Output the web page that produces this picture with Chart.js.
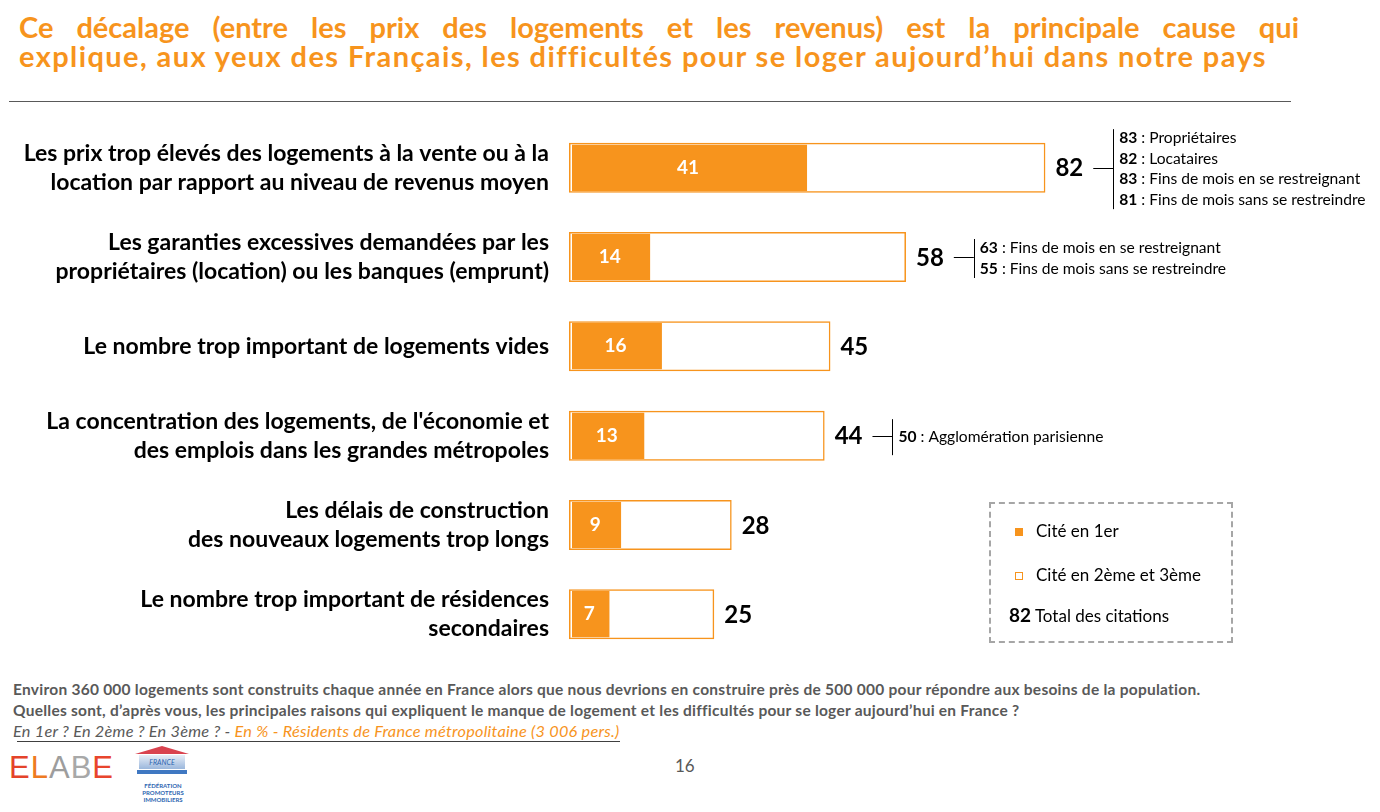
<!DOCTYPE html>
<html lang="fr">
<head>
<meta charset="utf-8">
<title>Difficultés pour se loger</title>
<script src="https://cdn.jsdelivr.net/npm/chart.js@4.4.1/dist/chart.umd.min.js"></script>
<style>
  html, body { margin: 0; padding: 0; background: #fff; }
  body { width: 1380px; height: 812px; position: relative; overflow: hidden; font-family: Lato, "Open Sans", sans-serif; }
  .titre { position: absolute; left: 19px; width: 1280px; color: #F7941D; font-weight: bold; font-size: 29px; line-height: 30px; white-space: nowrap; letter-spacing: 1.4px; }
  .titre.l1 { top: 12px; text-align: justify; text-align-last: justify; white-space: normal; letter-spacing: 0; }
  .titre.l2 { top: 41px; }
  .regle { position: absolute; left: 9px; top: 101px; width: 1282px; height: 1px; background: #595959; }
  #zone { position: absolute; left: 0; top: 110px; width: 1380px; height: 560px; }
  .legende { position: absolute; left: 989px; top: 502px; width: 240px; height: 137px; border: 2px dashed #a6a6a6; font-size: 17px; color: #000; }
  .legende .item { position: absolute; left: 45px; white-space: nowrap; }
  .legende .carre { position: absolute; left: 24px; width: 8px; height: 8px; box-sizing: border-box; }
  .pied { position: absolute; left: 13px; color: #595959; font-size: 15.5px; letter-spacing: 0.25px; white-space: nowrap; }
  .pied b { font-weight: bold; }
  .orange { color: #F7941D; }
  .souligne { position: absolute; left: 17px; top: 741px; width: 603px; height: 1px; background: #404040; }
  .page { position: absolute; left: 675px; top: 755px; font-size: 17px; color: #595959; }
  .elabe { position: absolute; left: 9px; top: 750px; font-size: 31px; letter-spacing: 1px; font-family: "Liberation Sans", sans-serif; }
  .fpi { position: absolute; left: 133px; top: 746px; width: 60px; height: 64px; }
</style>
</head>
<body>
<div class="titre l1">Ce décalage (entre les prix des logements et les revenus) est la principale cause qui</div>
<div class="titre l2">explique, aux yeux des Français, les difficultés pour se loger aujourd’hui dans notre pays</div>
<div class="regle"></div>

<div id="zone"><canvas id="graphique"></canvas></div>

<div class="legende">
  <div class="carre" style="top:24px;background:#F7941D;"></div>
  <div class="item" style="top:16px;">Cité en 1er</div>
  <div class="carre" style="top:68px;border:1px solid #F7941D;background:#fff;"></div>
  <div class="item" style="top:60px;">Cité en 2ème et 3ème</div>
  <div class="item" style="top:99px;left:18px;"><b style="font-size:19px;">82</b> Total des citations</div>
</div>

<div class="pied" style="top:680px;"><b>Environ 360 000 logements sont construits chaque année en France alors que nous devrions en construire près de 500 000 pour répondre aux besoins de la population.</b></div>
<div class="pied" style="top:701px;"><b>Quelles sont, d’après vous, les principales raisons qui expliquent le manque de logement et les difficultés pour se loger aujourd’hui en France ?</b></div>
<div class="pied" style="top:721px;font-style:italic;font-size:16.3px;">En 1er ? En 2ème ? En 3ème ? - <span class="orange">En % - Résidents de France métropolitaine (3 006 pers.)</span></div>
<div class="souligne"></div>
<div class="page">16</div>
<div class="elabe"><span style="color:#e4432a">E</span><span style="color:#ee7a22">L</span><span style="color:#9d9d9d">A</span><span style="color:#a8a8a8">B</span><span style="color:#e8452d">E</span></div>
<div class="fpi">
  <div style="position:absolute;left:2px;top:0;width:0;height:0;border-left:27px solid transparent;border-right:27px solid transparent;border-bottom:8px solid #d9434f;"></div>
  <div style="position:absolute;left:6px;top:9px;width:46px;height:14px;background:linear-gradient(#e8eef7,#9bb7dc);font-size:7px;color:#2d66b1;font-style:italic;text-align:center;line-height:14px;">FRANCE</div>
  <div style="position:absolute;left:4px;top:24px;width:50px;height:4px;background:#3f78c2;"></div>
  <div style="position:absolute;left:2px;top:36px;width:56px;font-size:6px;line-height:7px;color:#2d66b1;font-weight:bold;text-align:center;">FÉDÉRATION<br>PROMOTEURS<br>IMMOBILIERS</div>
</div>

<script>
// données
const categories = [
  ['Les prix trop élevés des logements à la vente ou à la', 'location par rapport au niveau de revenus moyen'],
  ['Les garanties excessives demandées par les', 'propriétaires (location) ou les banques (emprunt)'],
  ['Le nombre trop important de logements vides'],
  ["La concentration des logements, de l'économie et", 'des emplois dans les grandes métropoles'],
  ['Les délais de construction', 'des nouveaux logements trop longs'],
  ['Le nombre trop important de résidences', 'secondaires']
];
const citeEn1er = [41, 14, 16, 13, 9, 7];
const totalCitations = [82, 58, 45, 44, 28, 25];

// détails par sous-population
const notesPrix = [['83', 'Propriétaires'], ['82', 'Locataires'], ['83', 'Fins de mois en se restreignant'], ['81', 'Fins de mois sans se restreindre']];
const notesGaranties = [['63', 'Fins de mois en se restreignant'], ['55', 'Fins de mois sans se restreindre']];
const notesConcentration = [['50', 'Agglomération parisienne']];
const notesParLigne = [notesPrix, notesGaranties, [], notesConcentration, [], []];

const ORANGE = '#F7941D';
const POLICE = 'Lato, "Open Sans", sans-serif';

// étiquettes des valeurs + annotations à droite des barres
const etiquettes = {
  id: 'etiquettes',
  afterDatasetsDraw(chart) {
    const ctx = chart.ctx;
    const metaPremier = chart.getDatasetMeta(0);
    const metaTotal = chart.getDatasetMeta(1);
    ctx.save();
    ctx.textBaseline = 'middle';
    metaTotal.data.forEach((barre, i) => {
      const y = barre.y;
      // valeur cité en 1er
      const p = metaPremier.data[i];
      ctx.fillStyle = '#fff';
      ctx.font = 'bold 19px ' + POLICE;
      ctx.textAlign = 'center';
      ctx.fillText(String(citeEn1er[i]), (p.base + p.x) / 2, y);
      // total
      ctx.fillStyle = '#000';
      ctx.font = 'bold 24px ' + POLICE;
      ctx.textAlign = 'left';
      const xTotal = barre.x + 10;
      ctx.fillText(String(totalCitations[i]), xTotal, y + 1);
      const notes = notesParLigne[i];
      if (!notes.length) return;
      const largeur = ctx.measureText(String(totalCitations[i])).width;
      const x0 = xTotal + largeur + 10;
      const x1 = x0 + 20;
      const pas = 20.5;
      const demi = Math.max(18, notes.length * pas / 2 - 1);
      const yc = y + 1.5;
      ctx.strokeStyle = '#000';
      ctx.lineWidth = 1;
      ctx.beginPath();
      ctx.moveTo(x0, Math.round(y) + 0.5);
      ctx.lineTo(x1, Math.round(y) + 0.5);
      ctx.moveTo(Math.round(x1) + 0.5, yc - demi);
      ctx.lineTo(Math.round(x1) + 0.5, yc + demi);
      ctx.stroke();
      const yDebut = yc - (notes.length - 1) * pas / 2;
      notes.forEach((n, k) => {
        const yy = yDebut + k * pas;
        let x = x1 + 6;
        ctx.font = 'bold 15.6px ' + POLICE;
        ctx.fillText(n[0], x, yy);
        x += ctx.measureText(n[0]).width;
        ctx.font = '15.6px ' + POLICE;
        ctx.fillText(' : ' + n[1], x, yy);
      });
    });
    ctx.restore();
  }
};

new Chart(document.getElementById('graphique'), {
  type: 'bar',
  data: {
    labels: categories,
    datasets: [
      {
        label: 'Cité en 1er',
        data: citeEn1er,
        backgroundColor: ORANGE,
        borderColor: '#fff',
        borderWidth: { left: 3, top: 0, right: 0, bottom: 0 },
        borderSkipped: false,
        barPercentage: 0.52,
        categoryPercentage: 1,
        grouped: false,
        order: 2
      },
      {
        label: 'Cité en 2ème et 3ème',
        data: totalCitations,
        backgroundColor: 'rgba(255,255,255,0)',
        borderColor: ORANGE,
        borderWidth: 1.5,
        borderSkipped: false,
        barPercentage: 0.56,
        categoryPercentage: 1,
        grouped: false,
        order: 1
      }
    ]
  },
  options: {
    indexAxis: 'y',
    responsive: true,
    maintainAspectRatio: false,
    animation: false,
    layout: { padding: { top: 13, bottom: 11, left: 0, right: 230 } },
    plugins: { legend: { display: false }, tooltip: { enabled: false } },
    scales: {
      x: { display: false, min: 0, max: 100 },
      y: {
        grid: { display: false, drawTicks: false },
        border: { display: false },
        afterFit(scale) {
          scale.width = 569;
          scale.paddingTop = 0;
          scale.paddingBottom = 0;
        },
        ticks: {
          padding: 20,
          color: '#000',
          font: { family: POLICE, size: 23, weight: 'bold', lineHeight: 1.26 }
        }
      }
    }
  },
  plugins: [etiquettes]
});
</script>
</body>
</html>
